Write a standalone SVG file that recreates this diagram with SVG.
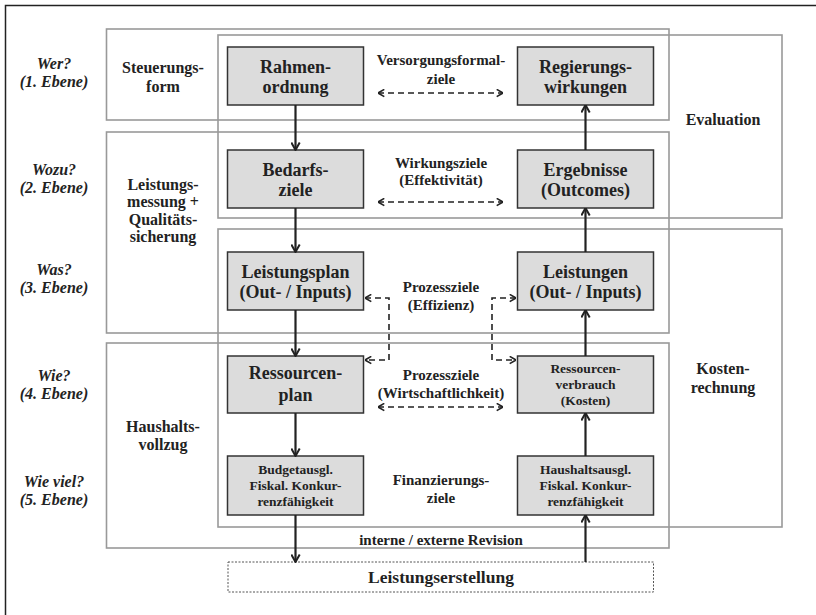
<svg xmlns="http://www.w3.org/2000/svg" width="816" height="615" viewBox="0 0 816 615">
<style>
text{font-family:"Liberation Serif","Times New Roman",serif;font-weight:bold;fill:#222;text-anchor:middle}
.q{font-style:italic;font-size:16px}
.side{font-size:16px}
.mid{font-size:15px}
.big{font-size:18px}
.small{font-size:13.5px}
.frame{fill:none;stroke:#999;stroke-width:1.6}
.node{fill:#dcdcdc;stroke:#333;stroke-width:1.5}
.arr{fill:none;stroke:#222;stroke-width:2.2;marker-end:url(#ah)}
.dash{fill:none;stroke:#222;stroke-width:1.6;stroke-dasharray:6,4;marker-start:url(#dh);marker-end:url(#dh)}
</style>
<defs>
<marker id="ah" viewBox="0 0 10 10" refX="9.5" refY="5" markerWidth="10" markerHeight="10" markerUnits="userSpaceOnUse" orient="auto-start-reverse">
<path d="M2,0.8 L9.5,5 L2,9.2" fill="none" stroke="#222" stroke-width="2"/>
</marker>
<marker id="dh" viewBox="0 0 10 10" refX="9.5" refY="5" markerWidth="9" markerHeight="9" markerUnits="userSpaceOnUse" orient="auto-start-reverse">
<path d="M2.5,1 L9.5,5 L2.5,9" fill="none" stroke="#222" stroke-width="1.8"/>
</marker>
</defs>
<rect width="816" height="615" fill="#fff"/>
<rect x="5.5" y="5.5" width="830" height="630" fill="none" stroke="#222" stroke-width="1.5"/>

<g id="frames">
<rect class="frame" x="106.5" y="29" width="562.5" height="91"/>
<rect class="frame" x="106.5" y="132" width="562.5" height="201"/>
<rect class="frame" x="106.5" y="343" width="562.5" height="205"/>
<rect class="frame" x="218" y="35" width="564" height="183"/>
<rect class="frame" x="218" y="229" width="564" height="298"/>
</g>

<g id="levels">
<text class="q" x="54" y="69">Wer?</text>
<text class="q" x="54" y="87">(1. Ebene)</text>
<text class="q" x="54" y="175">Wozu?</text>
<text class="q" x="54" y="193">(2. Ebene)</text>
<text class="q" x="54" y="275">Was?</text>
<text class="q" x="54" y="293">(3. Ebene)</text>
<text class="q" x="54" y="381">Wie?</text>
<text class="q" x="54" y="399">(4. Ebene)</text>
<text class="q" x="54" y="487">Wie viel?</text>
<text class="q" x="54" y="505">(5. Ebene)</text>
</g>

<g id="side-labels">
<text class="side" x="163" y="73">Steuerungs-</text>
<text class="side" x="163" y="92">form</text>
<text class="side" x="163" y="190">Leistungs-</text>
<text class="side" x="163" y="207">messung +</text>
<text class="side" x="163" y="225">Qualitäts-</text>
<text class="side" x="163" y="242">sicherung</text>
<text class="side" x="163" y="432">Haushalts-</text>
<text class="side" x="163" y="450">vollzug</text>
<text class="side" x="723" y="125">Evaluation</text>
<text class="side" x="723" y="374">Kosten-</text>
<text class="side" x="723" y="393">rechnung</text>
</g>

<g id="goal-labels">
<text class="mid" x="441" y="65">Versorgungsformal-</text>
<text class="mid" x="441" y="84">ziele</text>
<text class="mid" x="441" y="168">Wirkungsziele</text>
<text class="mid" x="441" y="185">(Effektivität)</text>
<text class="mid" x="441" y="292">Prozessziele</text>
<text class="mid" x="441" y="310">(Effizienz)</text>
<text class="mid" x="441" y="380">Prozessziele</text>
<text class="mid" x="441" y="398">(Wirtschaftlichkeit)</text>
<text class="mid" x="441" y="485">Finanzierungs-</text>
<text class="mid" x="441" y="503">ziele</text>
<text class="mid" x="441" y="545">interne / externe Revision</text>
</g>

<g id="rahmenordnung">
<rect class="node" x="227.5" y="47" width="136" height="58"/>
<text class="big" x="295.5" y="73">Rahmen-</text>
<text class="big" x="295.5" y="93">ordnung</text>
</g>
<g id="regierungswirkungen">
<rect class="node" x="517.5" y="47" width="136" height="58"/>
<text class="big" x="585.5" y="73">Regierungs-</text>
<text class="big" x="585.5" y="93">wirkungen</text>
</g>
<g id="bedarfsziele">
<rect class="node" x="227.5" y="150" width="136" height="58"/>
<text class="big" x="295.5" y="176">Bedarfs-</text>
<text class="big" x="295.5" y="196">ziele</text>
</g>
<g id="ergebnisse">
<rect class="node" x="517.5" y="150" width="136" height="58"/>
<text class="big" x="585.5" y="176">Ergebnisse</text>
<text class="big" x="585.5" y="196">(Outcomes)</text>
</g>
<g id="leistungsplan">
<rect class="node" x="227.5" y="252" width="136" height="58"/>
<text class="big" x="295.5" y="278">Leistungsplan</text>
<text class="big" x="295.5" y="298">(Out- / Inputs)</text>
</g>
<g id="leistungen">
<rect class="node" x="517.5" y="252" width="136" height="58"/>
<text class="big" x="585.5" y="278">Leistungen</text>
<text class="big" x="585.5" y="298">(Out- / Inputs)</text>
</g>
<g id="ressourcenplan">
<rect class="node" x="227.5" y="356" width="136" height="57"/>
<text class="big" x="295.5" y="379">Ressourcen-</text>
<text class="big" x="295.5" y="401">plan</text>
</g>
<g id="ressourcenverbrauch">
<rect class="node" x="517.5" y="356" width="136" height="57"/>
<text class="small" x="585.5" y="373">Ressourcen-</text>
<text class="small" x="585.5" y="389">verbrauch</text>
<text class="small" x="585.5" y="405">(Kosten)</text>
</g>
<g id="budgetausgl">
<rect class="node" x="227.5" y="456" width="136" height="59"/>
<text class="small" x="295.5" y="474">Budgetausgl.</text>
<text class="small" x="295.5" y="490">Fiskal. Konkur-</text>
<text class="small" x="295.5" y="506">renzfähigkeit</text>
</g>
<g id="haushaltsausgl">
<rect class="node" x="517.5" y="456" width="136" height="59"/>
<text class="small" x="585.5" y="474">Haushaltsausgl.</text>
<text class="small" x="585.5" y="490">Fiskal. Konkur-</text>
<text class="small" x="585.5" y="506">renzfähigkeit</text>
</g>
<g id="leistungserstellung">
<rect x="228" y="562" width="425.5" height="30" fill="#fff" stroke="#555" stroke-width="1" stroke-dasharray="2,1.5"/>
<text x="441" y="583" style="font-size:17.5px">Leistungserstellung</text>
</g>

<g id="connectors">
<line class="arr" x1="295.5" y1="105" x2="295.5" y2="150"/>
<line class="arr" x1="295.5" y1="208" x2="295.5" y2="252"/>
<line class="arr" x1="295.5" y1="310" x2="295.5" y2="356"/>
<line class="arr" x1="295.5" y1="413" x2="295.5" y2="456"/>
<line class="arr" x1="295.5" y1="515" x2="295.5" y2="562"/>
<line class="arr" x1="585.5" y1="562" x2="585.5" y2="515"/>
<line class="arr" x1="585.5" y1="456" x2="585.5" y2="413"/>
<line class="arr" x1="585.5" y1="356" x2="585.5" y2="310"/>
<line class="arr" x1="585.5" y1="252" x2="585.5" y2="208"/>
<line class="arr" x1="585.5" y1="150" x2="585.5" y2="105"/>
<line class="dash" x1="378" y1="93" x2="503" y2="93"/>
<line class="dash" x1="378" y1="202" x2="503" y2="202"/>
<line class="dash" x1="378" y1="407" x2="503" y2="407"/>
<path class="dash" d="M365,298 H389 V360 H365"/>
<path class="dash" d="M516,298 H492 V360 H516"/>
</g>
</svg>
